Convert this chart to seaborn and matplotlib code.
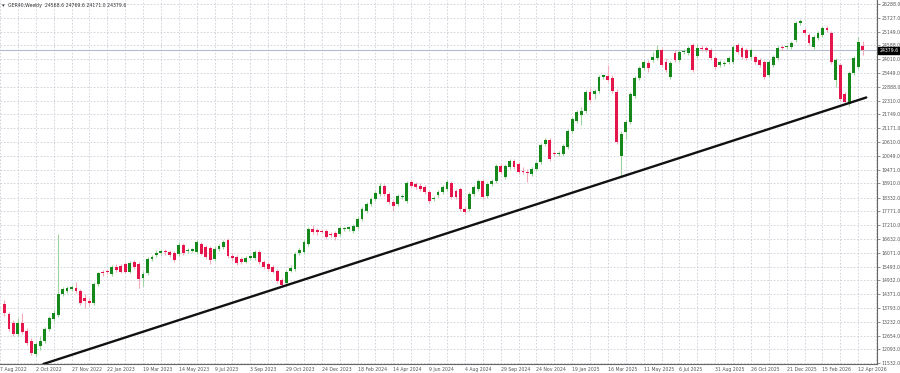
import numpy as np
import pandas as pd
import matplotlib
matplotlib.use("Agg")
import matplotlib.pyplot as plt
import matplotlib.transforms as mtrans
import seaborn as sns

title = "GER40,Weekly  24568.6 24769.6 24171.0 24379.6"
last_price = 24379.6

open_ = [
    13944, 13535, 13167, 12718, 13167, 12840, 12432, 11900, 12227, 12432,
    12922, 13331, 13494, 14352, 14475, 14557, 14598, 14475, 14189, 14066,
    13985, 14761, 15292, 15333, 15170, 15497, 15538, 15619, 15292, 15701,
    15619, 15006, 15211, 15824, 15987, 16069, 16151, 16110, 16069, 16028,
    16396, 16151, 16151, 16110, 16437, 16314, 16273, 15824, 16232, 16314,
    16600, 15946, 15906, 15824, 15701, 15865, 15865, 16110, 15701, 15619,
    15497, 15333, 14925, 14802, 15333, 15415, 16069, 16110, 16437, 17050,
    17009, 16968, 16968, 16846, 16886, 16846, 17050, 17050, 16968, 17132,
    17459, 17786, 18072, 18276, 18480, 18807, 18480, 18153, 18072, 18340,
    18194, 18971, 18889, 18807, 18766, 18562, 18276, 18439, 18562, 18685,
    18930, 18603, 18685, 17867, 17867, 18480, 18685, 19012, 18399, 18889,
    19012, 19625, 19175, 19584, 19829, 19706, 19440, 19379, 19298, 19502,
    19788, 20524, 20687, 20156, 20115, 20115, 20401, 21055, 21464, 21709,
    21873, 22649, 22567, 22690, 23303, 23344, 23262, 22649, 20033, 21014,
    21423, 22486, 23262, 23671, 23875, 23998, 24080, 24406, 23916, 23303,
    24284, 23998, 24325, 24284, 24611, 24161, 24490, 24488, 24406, 24080,
    23793, 23834, 23916, 23916, 24611, 24488, 24406, 24120, 24120, 23998,
    23916, 23385, 23793, 24080, 24529, 24529, 24529, 24815, 25510, 25224,
    25020, 24529, 24897, 25020, 25306, 25101, 23180, 23793, 22567, 22159,
    23466, 23712, 24568.6,
]
high = [
    14107, 13617, 13290, 13372, 13576, 12963, 12554, 12391, 12636, 13004,
    13453, 13699, 16846, 14639, 14679, 14720, 14843, 14557, 14352, 14189,
    14843, 15292, 15374, 15415, 15579, 15619, 15619, 15701, 15742, 15783,
    15701, 15333, 15906, 15987, 16192, 16232, 16232, 16192, 16151, 16519,
    16478, 16273, 16273, 16600, 16519, 16396, 16355, 16355, 16437, 16600,
    16682, 16069, 15987, 15906, 15946, 15987, 16192, 16192, 15783, 15701,
    15579, 15415, 15006, 15374, 15579, 16110, 16273, 16600, 17132, 17213,
    17091, 17050, 17050, 16927, 16968, 17173, 17132, 17173, 17254, 17540,
    17949, 18153, 18358, 18603, 18930, 18889, 18562, 18276, 18480, 18480,
    19012, 19053, 18971, 18930, 18848, 18644, 18399, 18644, 18848, 19053,
    19012, 18685, 18766, 17990, 18562, 18848, 19093, 19093, 18971, 19093,
    19706, 19706, 19706, 19911, 19911, 19788, 19584, 19502, 19584, 19829,
    20565, 20769, 20769, 20238, 20238, 20524, 21137, 21627, 21913, 22036,
    22731, 22853, 22772, 23385, 23426, 23793, 23385, 22772, 21055, 21505,
    22649, 23344, 23753, 23998, 23998, 24325, 24611, 24488, 24080, 23957,
    24406, 24406, 24447, 24570, 24693, 24652, 24611, 24570, 24488, 24161,
    23998, 23957, 24161, 24611, 24693, 24570, 24488, 24488, 24202, 24080,
    23998, 23998, 24202, 24570, 24611, 24611, 24774, 25592, 25673, 25306,
    25101, 25020, 25183, 25387, 25387, 25183, 24080, 23875, 22649, 23548,
    24161, 24938, 24769.6,
]
low = [
    13453, 12840, 12636, 12636, 12718, 12268, 11859, 11818, 12064, 12350,
    12840, 13249, 13412, 14271, 14393, 14475, 14393, 13903, 13780, 13862,
    13903, 14679, 15088, 15170, 15088, 15292, 15211, 15211, 15211, 15415,
    14598, 14679, 15129, 15742, 15906, 15987, 15987, 15906, 15701, 15946,
    15987, 16069, 16110, 16028, 15987, 15824, 15619, 15742, 16151, 16232,
    15865, 15742, 15579, 15619, 15660, 15783, 15783, 15619, 15415, 15333,
    15211, 14802, 14639, 14720, 15252, 15333, 15987, 16028, 16355, 16846,
    16805, 16886, 16641, 16723, 16600, 16764, 16968, 16968, 16886, 17050,
    17377, 17704, 17990, 18194, 18399, 18399, 18072, 17786, 17990, 18276,
    18113, 18726, 18685, 18603, 18480, 18113, 18194, 18358, 18480, 18603,
    18276, 18276, 17786, 17663, 17786, 18399, 18603, 18276, 18317, 18807,
    18930, 19298, 19093, 19502, 19502, 19298, 19298, 18971, 19216, 19420,
    19706, 20442, 19829, 20033, 20033, 20033, 20319, 20973, 21382, 21300,
    21791, 22240, 22363, 22608, 23221, 23099, 22608, 20524, 19175, 20728,
    21341, 22404, 23180, 23589, 23507, 23916, 23998, 23712, 23507, 23221,
    23916, 23916, 24243, 24202, 23507, 24080, 24366, 24325, 23998, 23630,
    23712, 23753, 23834, 23834, 24243, 24039, 23998, 24039, 23834, 23712,
    23221, 23303, 23712, 23998, 24406, 24447, 24447, 24733, 25428, 25020,
    24611, 24447, 24815, 24938, 25142, 23834, 22894, 22281, 22159, 22077,
    23385, 23630, 24171.0,
]
close = [
    13576, 12922, 12718, 13167, 12799, 12350, 11941, 12309, 12432, 12922,
    13372, 13576, 14352, 14557, 14598, 14639, 14475, 13985, 14066, 13985,
    14761, 15211, 15211, 15252, 15497, 15374, 15292, 15292, 15660, 15497,
    14966, 15170, 15824, 15906, 16069, 16151, 16110, 15987, 15783, 16396,
    16069, 16192, 16232, 16519, 16028, 15906, 15783, 16232, 16355, 16519,
    15946, 15865, 15660, 15701, 15865, 15906, 16110, 15701, 15497, 15415,
    15292, 14884, 14720, 15292, 15456, 16028, 16192, 16519, 17050, 16927,
    16927, 16927, 16723, 16805, 16723, 17091, 17091, 17132, 17173, 17459,
    17867, 18072, 18276, 18521, 18807, 18480, 18153, 17990, 18399, 18399,
    18930, 18807, 18766, 18685, 18562, 18194, 18317, 18562, 18766, 18971,
    18358, 18358, 17867, 17745, 18480, 18766, 19012, 18358, 18889, 19012,
    19625, 19379, 19625, 19829, 19584, 19379, 19380, 19339, 19502, 19747,
    20483, 20687, 19911, 20115, 20156, 20442, 21055, 21546, 21832, 21873,
    22649, 22322, 22690, 23303, 23344, 23180, 22690, 20606, 20933, 21423,
    22567, 23262, 23671, 23916, 23671, 24120, 24406, 23793, 23589, 23875,
    23998, 24325, 24366, 24488, 23589, 24488, 24447, 24406, 24080, 23712,
    23916, 23875, 24080, 24529, 24325, 24120, 24080, 24406, 23916, 23793,
    23303, 23916, 24120, 24488, 24468, 24550, 24693, 25510, 25592, 25101,
    24693, 24938, 25101, 25306, 25224, 23916, 23998, 22363, 22240, 23466,
    24080, 24733, 24379.6,
]

date_labels = [
    "7 Aug 2022", "2 Oct 2022", "27 Nov 2022", "22 Jan 2023", "19 Mar 2023",
    "14 May 2023", "9 Jul 2023", "3 Sep 2023", "29 Oct 2023", "24 Dec 2023",
    "18 Feb 2024", "14 Apr 2024", "9 Jun 2024", "4 Aug 2024", "29 Sep 2024",
    "24 Nov 2024", "19 Jan 2025", "16 Mar 2025", "11 May 2025", "6 Jul 2025",
    "31 Aug 2025", "26 Oct 2025", "21 Dec 2025", "15 Feb 2026", "12 Apr 2026",
]
price_ticks = [
    11532.0, 12093.0, 12654.0, 13232.0, 13793.0, 14371.0, 14932.0, 15493.0,
    16071.0, 16632.0, 17210.0, 17771.0, 18332.0, 18910.0, 19471.0, 20049.0,
    20610.0, 21171.0, 21749.0, 22310.0, 22888.0, 23449.0, 24010.0, 24588.0,
    25149.0, 25727.0, 26288.0,
]
trend_week = [8.7, 192.8]
trend_price = [11491, 22444]

n = min(len(open_), len(high), len(low), len(close))
df = pd.DataFrame({
    "week": np.arange(n),
    "open": open_[:n], "high": high[:n], "low": low[:n], "close": close[:n],
})
up = df["close"] >= df["open"]

sns.set_style("white")
plt.rcParams["font.family"] = ["DejaVu Sans"]

fig = plt.figure(figsize=(9.0, 3.73), dpi=100)
ax = fig.add_axes([0.0, 9 / 373, 877 / 900, 364 / 373])
ax.set_facecolor("white")

GREEN = "#16891c"
RED = "#e5164c"
WICK_G = "#9fd39f"
WICK_R = "#f4aabb"
GRID = "#c9ced7"
FS = 3.3

# grid
for p in price_ticks:
    ax.axhline(p, color=GRID, lw=0.6, ls=(0, (2, 2)), zorder=0)
for w in range(-1, 196, 4):
    ax.axvline(w, color=GRID, lw=0.6, ls=(0, (2, 2)), zorder=0)

# current price line
ax.axhline(last_price, color="#b4bccb", lw=0.8, zorder=1)

# wicks
ax.vlines(df["week"], df["low"], df["high"],
          colors=np.where(up, WICK_G, WICK_R), lw=0.8, zorder=2)
# bodies
body = (df["close"] - df["open"]).abs().clip(lower=45)
bottom = df[["open", "close"]].min(axis=1)
ax.bar(df["week"], body, bottom=bottom, width=0.64,
       color=np.where(up, GREEN, RED), linewidth=0, zorder=3)

# trend line
sns.lineplot(x=trend_week, y=trend_price, color="#111111", lw=1.7, ax=ax,
             zorder=4, legend=False)

ax.set_xlim(-1.0, 195.2)
ax.set_ylim(11491, 26450)

# axes styling
for s in ["top", "left"]:
    ax.spines[s].set_visible(False)
for s in ["right", "bottom"]:
    ax.spines[s].set_visible(True)
    ax.spines[s].set_color("#666666")
    ax.spines[s].set_linewidth(0.8)

ax.yaxis.tick_right()
ax.set_yticks(price_ticks)
ax.set_yticklabels([f"{p:.1f}" for p in price_ticks], fontsize=FS)
ax.tick_params(axis="y", length=2, width=0.5, pad=1.5, colors="#666666",
               labelcolor="#555555")
ax.set_xticks([8 * k - 1 for k in range(len(date_labels))])
ax.set_xticklabels(date_labels, fontsize=FS, ha="left")
ax.tick_params(axis="x", length=1.5, width=0.5, pad=0.5, colors="#666666",
               labelcolor="#555555")
ax.set_xlabel("")
ax.set_ylabel("")

# last price label
trans = mtrans.blended_transform_factory(ax.transAxes, ax.transData)
ax.text(1.003, last_price, f"{last_price:.1f}", transform=trans, ha="left",
        va="center", fontsize=FS, color="white", zorder=6, clip_on=False,
        bbox=dict(boxstyle="square,pad=0.3", fc="black", ec="black"))

# title
fig.text(2 / 900, 1 - 6 / 373, "\u25be", fontsize=3.8, color="#333333", va="center")
fig.text(8 / 900, 1 - 6 / 373, title, fontsize=FS, color="#333333", va="center")

fig.savefig("out.png", dpi=100, facecolor="white")
